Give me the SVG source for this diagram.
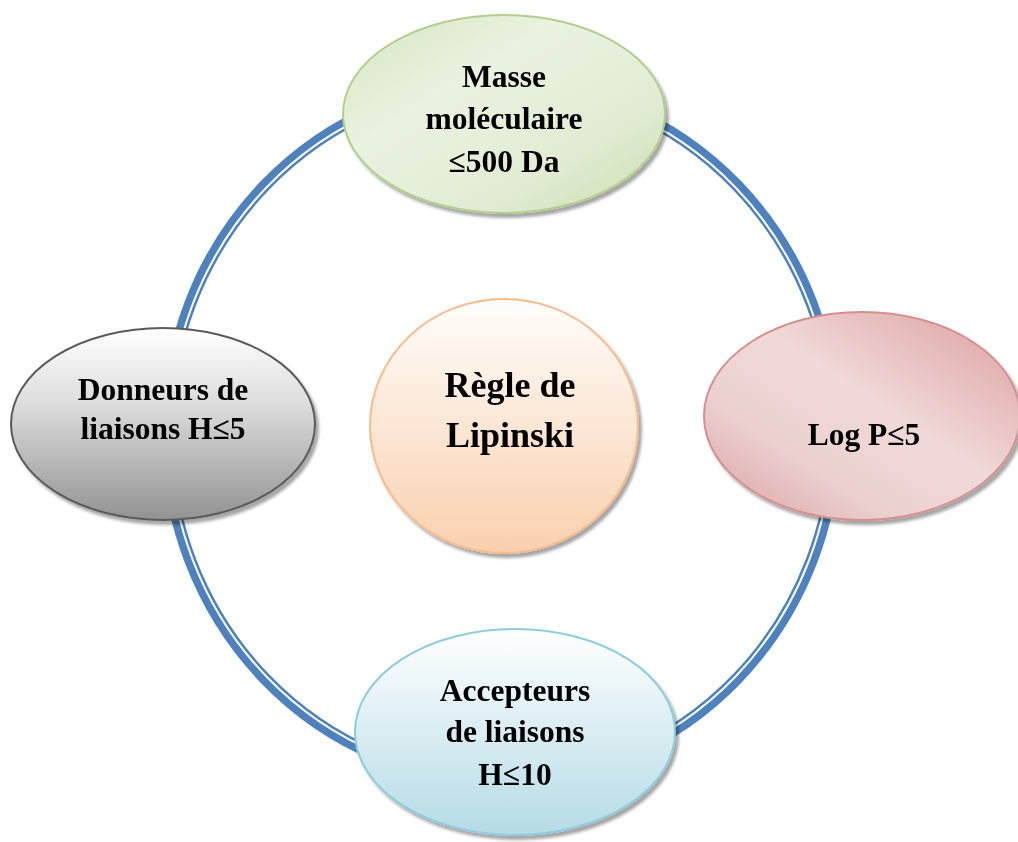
<svg xmlns="http://www.w3.org/2000/svg" width="1018" height="842" viewBox="0 0 1018 842">
<style>
  .lbl{font-family:"Liberation Serif","Times New Roman",serif;font-weight:bold;font-size:31.5px;fill:#000;text-anchor:middle}
  .big{font-size:36px}
  .node{filter:url(#sh)}
</style>
<defs>
  <filter id="sh" x="-10%" y="-10%" width="125%" height="125%">
    <feDropShadow dx="3" dy="4" stdDeviation="1.8" flood-color="#000" flood-opacity="0.35"/>
  </filter>
  <linearGradient id="gGreen" x1="0" y1="0" x2="1" y2="1">
    <stop offset="0" stop-color="#d6e5c2"/>
    <stop offset="0.35" stop-color="#eaf2e0"/>
    <stop offset="0.7" stop-color="#e2ecd4"/>
    <stop offset="1" stop-color="#c9dcae"/>
  </linearGradient>
  <linearGradient id="gGrey" x1="0" y1="0" x2="0" y2="1">
    <stop offset="0" stop-color="#ffffff"/>
    <stop offset="0.4" stop-color="#dcdcdc"/>
    <stop offset="1" stop-color="#929292"/>
  </linearGradient>
  <linearGradient id="gPink" x1="1" y1="0" x2="0" y2="1">
    <stop offset="0" stop-color="#dc9e9e"/>
    <stop offset="0.45" stop-color="#f1d9d9"/>
    <stop offset="0.7" stop-color="#ecd0d0"/>
    <stop offset="1" stop-color="#d89e9e"/>
  </linearGradient>
  <linearGradient id="gBlue" x1="0" y1="0" x2="0" y2="1">
    <stop offset="0" stop-color="#ffffff"/>
    <stop offset="1" stop-color="#b5dbe6"/>
  </linearGradient>
  <linearGradient id="gOrange" x1="0" y1="0" x2="0" y2="1">
    <stop offset="0" stop-color="#fffdfb"/>
    <stop offset="1" stop-color="#f9d0ae"/>
  </linearGradient>
</defs>

<g id="connectors">
  <ellipse cx="501" cy="432" rx="336.5" ry="350.5" fill="none" stroke="#4f81bd" stroke-width="7.5"/>
  <ellipse cx="501" cy="432" rx="329.5" ry="343.5" fill="none" stroke="#4f81bd" stroke-width="2.5"/>
</g>

<g id="node-masse" class="node">
  <ellipse cx="504" cy="114" rx="161" ry="99" fill="url(#gGreen)" stroke="#b3cd8c" stroke-width="2"/>
  <text class="lbl" x="504" y="87">Masse</text>
  <text class="lbl" x="504" y="129">moléculaire</text>
  <text class="lbl" x="504" y="172">≤500 Da</text>
</g>

<g id="node-donneurs" class="node">
  <ellipse cx="163" cy="424" rx="152" ry="96" fill="url(#gGrey)" stroke="#5a5a5a" stroke-width="2"/>
  <text class="lbl" x="163" y="400">Donneurs de</text>
  <text class="lbl" x="163" y="439">liaisons H≤5</text>
</g>

<g id="node-logp" class="node">
  <ellipse cx="862" cy="416" rx="158" ry="104" fill="url(#gPink)" stroke="#d48f8f" stroke-width="2"/>
  <text class="lbl" x="864" y="445">Log P≤5</text>
</g>

<g id="node-accepteurs" class="node">
  <ellipse cx="515" cy="732" rx="160" ry="103" fill="url(#gBlue)" stroke="#8ecbdb" stroke-width="2"/>
  <text class="lbl" x="515" y="701">Accepteurs</text>
  <text class="lbl" x="515" y="742">de liaisons</text>
  <text class="lbl" x="515" y="785">H≤10</text>
</g>

<g id="node-lipinski" class="node">
  <ellipse cx="504" cy="426" rx="134" ry="127" fill="url(#gOrange)" stroke="#f6bb8e" stroke-width="2"/>
  <text class="lbl big" x="510" y="397">Règle de</text>
  <text class="lbl big" x="510" y="447">Lipinski</text>
</g>
</svg>
